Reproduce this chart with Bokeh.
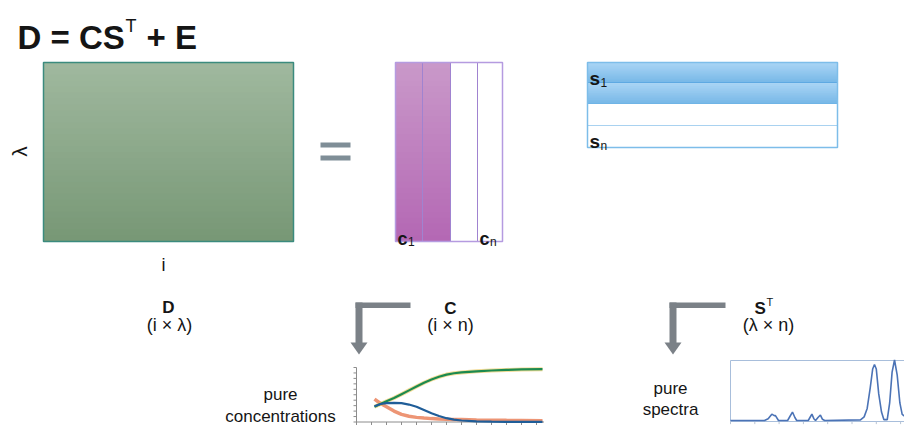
import numpy as np
from math import pi
from bokeh.plotting import figure
from bokeh.models import Range1d
from bokeh.core.properties import value
from bokeh.embed import file_html
from bokeh.resources import INLINE

# ---------------- data ----------------
equation_main = "D = CS"
equation_sup = "T"
equation_tail = "+ E"
matrix_names = ["D", "C"]
st_name = "S"
st_sup = "T"
matrix_dims = ["(i × λ)", "(i × n)", "(λ × n)"]
d_row_label = "λ"
d_col_label = "i"
c_col_letter = ["c", "c"]
c_col_index = ["1", "n"]
c_col_filled = [True, True, False, False]
s_row_letter = ["s", "s"]
s_row_index = ["1", "n"]
s_row_filled = [True, True, False, False]
conc_caption = ["pure", "concentrations"]
spec_caption = ["pure", "spectra"]

time = [1.2, 1.6, 2.0, 2.5, 3.0, 3.5, 4.0, 4.5, 5.0, 5.5, 6.0, 6.5, 7.0, 8.0, 9.0, 10.0, 11.0, 12.4]
conc_green = [0.28, 0.33, 0.38, 0.44, 0.51, 0.58, 0.65, 0.72, 0.78, 0.83, 0.87, 0.895, 0.91, 0.93, 0.945, 0.955, 0.965, 0.97]
conc_blue = [0.29, 0.33, 0.345, 0.35, 0.345, 0.32, 0.28, 0.22, 0.16, 0.11, 0.07, 0.045, 0.028, 0.012, 0.006, 0.004, 0.003, 0.002]
conc_orange = [0.42, 0.34, 0.28, 0.2, 0.14, 0.105, 0.085, 0.072, 0.062, 0.055, 0.05, 0.047, 0.044, 0.037, 0.033, 0.03, 0.028, 0.025]
conc_t_ticks = list(range(0, 13))
conc_c_ticks = [0.0, 0.1, 0.2, 0.3, 0.4, 0.5, 0.6, 0.7, 0.8, 0.9, 1.0]

wavelength = [200, 228, 231, 234, 236, 237, 239.5, 247, 249, 251, 253, 254.5, 264, 266, 267, 268.6, 270,
              272, 274, 275.7, 277.5, 307, 310, 312.5, 315, 317, 318.5, 320, 322, 324.3, 326.2, 329,
              331, 333, 335, 337.2, 339.4, 341.3, 345.4, 349.5, 353.6, 356.3]
absorbance = [0.0, 0.0, 0.03, 0.105, 0.08, 0.08, 0.0, 0.0, 0.07, 0.14, 0.05, 0.0, 0.0, 0.07, 0.105, 0.03, 0.0,
              0.05, 0.09, 0.02, 0.0, 0.01, 0.06, 0.2, 0.54, 0.85, 0.925, 0.85, 0.44, 0.14, 0.015, 0.015,
              0.29, 0.8, 1.0, 0.75, 0.29, 0.1, 0.04, 0.0, 0.12, 0.18]
spec_w_ticks = [200, 220, 240, 260, 280, 300, 320, 340]

# ---------------- canvas ----------------
W, H = 904, 425
FONT = value("Liberation Sans")

p = figure(width=W, height=H, x_range=Range1d(0, W), y_range=Range1d(H, 0),
           output_backend="svg", toolbar_location=None, min_border=0,
           x_axis_location=None, y_axis_location=None)
p.grid.visible = False
p.outline_line_color = None
p.background_fill_color = "white"


def xrange_for(v0, p0, v1, p1):
    k = (p1 - p0) / (v1 - v0)
    s = v0 - p0 / k
    return Range1d(s, s + W / k)


def yrange_for(v0, p0, v1, p1):
    k = (p0 - p1) / (v1 - v0)
    s = v0 - (H - p0) / k
    return Range1d(s, s + H / k)


def mix(c1, c2, t):
    a = [int(c1[i:i + 2], 16) for i in (1, 3, 5)]
    b = [int(c2[i:i + 2], 16) for i in (1, 3, 5)]
    return "#%02x%02x%02x" % tuple(int(round(a[j] + (b[j] - a[j]) * t)) for j in range(3))


def gradient_box(left, right, top, bottom, c_top, c_bot, n=30):
    edges = np.linspace(top, bottom, n + 1)
    cols = [mix(c_top, c_bot, i / (n - 1)) for i in range(n)]
    p.quad(left=[left] * n, right=[right] * n, top=list(edges[:-1]), bottom=[bottom] * n,
           fill_color=cols, line_color=None)


def txt(x, y, t, size, bold=False, align="left", color="#151515", angle=0.0):
    p.text(x=[x], y=[y], text=[t], text_font=FONT, text_font_size=value(size),
           text_font_style="bold" if bold else "normal", text_align=align,
           text_baseline="alphabetic", text_color=color, angle=angle)


# ---------------- title ----------------
txt(17, 37, equation_main, "33px", bold=True)
txt(125, 25, equation_sup, "18px")
txt(146, 37, equation_tail, "33px", bold=True)

# ---------------- D matrix ----------------
gradient_box(43, 293, 62, 241, "#9fb89e", "#789876")
p.quad(left=[43], right=[293], top=[62], bottom=[241], fill_color=None,
       line_color="#3b8b7e", line_width=1.5)
txt(19, 151, d_row_label, "21px", align="center", angle=pi / 2)
txt(163, 264, d_col_label, "18px", align="center")

# equals sign
p.quad(left=[320, 320], right=[350, 350], top=[142, 155], bottom=[147, 160],
       fill_color="#7f8e97", line_color=None)

# ---------------- C matrix ----------------
c_edges = [395, 422, 450, 477, 502]
for j, filled in enumerate(c_col_filled):
    if filled:
        gradient_box(c_edges[j], c_edges[j + 1], 62, 241, "#c998c9", "#b468b4")
p.segment(x0=c_edges[1:-1], y0=[62] * 3, x1=c_edges[1:-1], y1=[241] * 3,
          line_color="#a083d0", line_width=1)
p.quad(left=[c_edges[0]], right=[c_edges[-1]], top=[62], bottom=[241], fill_color=None,
       line_color="#b59be0", line_width=1.5)
for k, j in enumerate([0, 3]):
    txt(c_edges[j] + 2, 238, c_col_letter[k], "18px", bold=True)
    txt(c_edges[j] + 12.5, 241, c_col_index[k], "12px")

# ---------------- S^T matrix ----------------
s_edges = [62, 82, 103, 125, 147]
for j, filled in enumerate(s_row_filled):
    if filled:
        gradient_box(587, 837, s_edges[j], s_edges[j + 1], "#a9d4f4", "#79b9e8", n=12)
p.segment(x0=[587] * 3, y0=s_edges[1:-1], x1=[837] * 3, y1=s_edges[1:-1],
          line_color=["#5ea9e2", "#6fb4e6", "#a9d2f0"], line_width=1)
p.quad(left=[587], right=[837], top=[62], bottom=[147], fill_color=None,
       line_color="#7dbde9", line_width=1.5)
for k, yb in enumerate([78, 141]):
    txt(589, yb, s_row_letter[k], "19px", bold=True)
    txt(600, yb + 4, s_row_index[k], "12px")

# ---------------- captions ----------------
txt(168, 307, matrix_names[0], "17px", bold=True, align="center")
txt(169, 324, matrix_dims[0], "18px", align="center")
txt(450, 308, matrix_names[1], "17px", bold=True, align="center")
txt(450, 324, matrix_dims[1], "18px", align="center")
txt(754, 308, st_name, "17px", bold=True)
txt(766, 301, st_sup, "11px")
txt(768, 324, matrix_dims[2], "18px", align="center")

# ---------------- arrows ----------------
arrow_col = "#7b8187"
for (ax, hx) in [(355, 410), (669, 725)]:
    p.quad(left=[ax, ax], right=[hx, ax + 7], top=[302, 302], bottom=[307.5, 343],
           fill_color=arrow_col, line_color=None)
    p.patch(x=[ax - 5, ax + 12, ax + 3.5], y=[342, 342, 354], fill_color=arrow_col, line_color=None)

txt(280, 394, conc_caption[0], "17px", align="center")
txt(280, 416, conc_caption[1], "17px", align="center")
txt(670, 388, spec_caption[0], "17px", align="center")
txt(670, 409, spec_caption[1], "17px", align="center")

# ---------------- concentration profiles inset ----------------
p.extra_x_ranges["conc_t"] = xrange_for(0, 356, 12, 536)
p.extra_y_ranges["conc_c"] = yrange_for(0, 421.5, 1, 367)
ck = dict(x_range_name="conc_t", y_range_name="conc_c")
axis_col = "#8c8c8c"
p.segment(x0=[0, 0], y0=[0, 0], x1=[0, 12.5], y1=[1.0, 0], line_color=axis_col, line_width=1, **ck)
p.segment(x0=conc_t_ticks, y0=[0] * len(conc_t_ticks), x1=conc_t_ticks, y1=[-0.055] * len(conc_t_ticks),
          line_color=axis_col, line_width=1, **ck)
p.segment(x0=[0] * len(conc_c_ticks), y0=conc_c_ticks, x1=[-0.2] * len(conc_c_ticks), y1=conc_c_ticks,
          line_color=axis_col, line_width=1, **ck)
p.line(time, conc_orange, line_color="#eb8a66", line_width=3.5, line_alpha=0.9, **ck)
p.line(time, conc_green, line_color="#e9c552", line_width=4, line_alpha=0.6, **ck)
p.line(time, conc_green, line_color="#1c8a4f", line_width=2.2, **ck)
p.line(time, conc_blue, line_color="#1f5d98", line_width=2.2, **ck)

# ---------------- pure spectra inset ----------------
p.extra_x_ranges["spec_w"] = xrange_for(200, 730, 220, 754.3)
p.extra_y_ranges["spec_a"] = yrange_for(0, 420, 1, 359.5)
sk = dict(x_range_name="spec_w", y_range_name="spec_a")
p.segment(x0=[730, 730, 730], y0=[360, 360, 421], x1=[730, 930, 930], y1=[421, 360, 421],
          line_color="#a8bedb", line_width=1)
p.segment(x0=spec_w_ticks, y0=[-0.02] * len(spec_w_ticks), x1=spec_w_ticks, y1=[-0.06] * len(spec_w_ticks),
          line_color="#b8c4d4", line_width=1, **sk)
p.line(wavelength, absorbance, line_color="#4b73b6", line_width=1.6, **sk)

open("out.html", "w").write(file_html(p, INLINE))
